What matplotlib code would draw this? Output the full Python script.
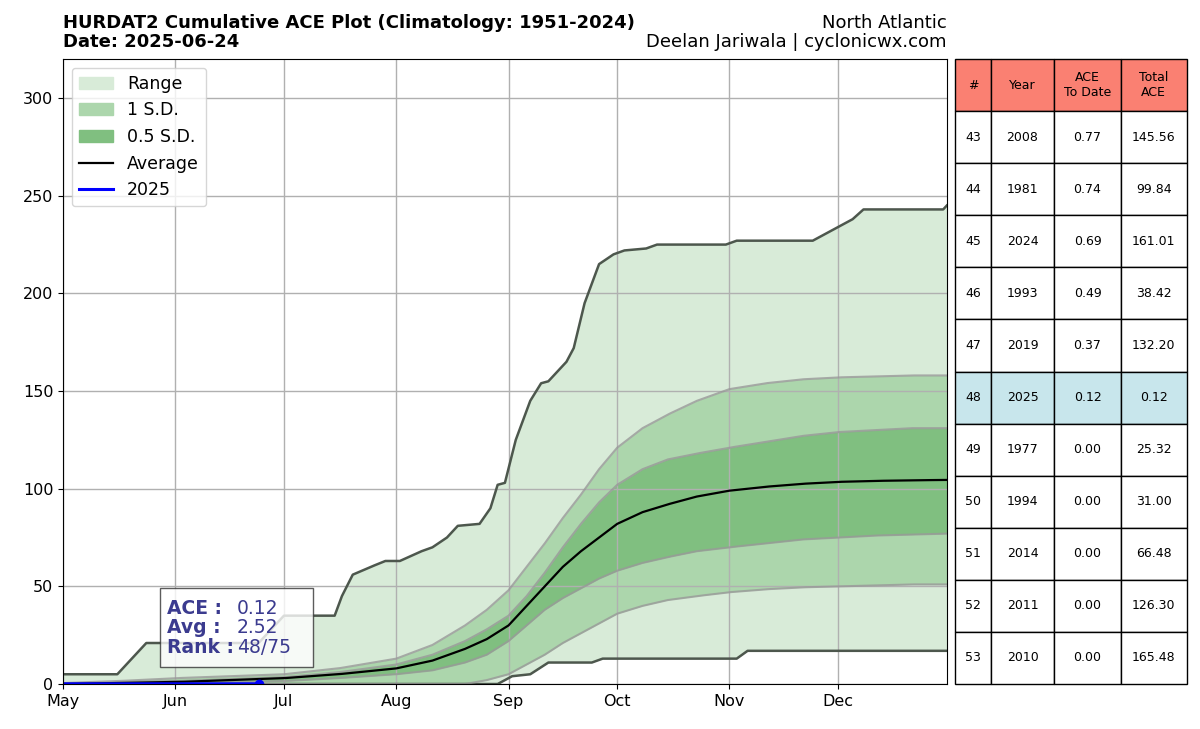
import numpy as np
import matplotlib
matplotlib.use("Agg")
import matplotlib.pyplot as plt
from matplotlib.patches import Patch
from matplotlib.lines import Line2D

# days since May 1
MONTH_DAYS = [0, 31, 61, 92, 123, 153, 184, 214]
MONTH_LABELS = ["May", "Jun", "Jul", "Aug", "Sep", "Oct", "Nov", "Dec"]

MAX_DAYS = [0, 15, 23, 54, 57, 61, 75, 77, 80, 85, 89, 93, 99, 102, 106, 109, 115, 118, 120, 122,
            125, 129, 132, 134, 139, 141, 144, 148, 152, 155, 161, 164, 183, 186, 207, 212, 218, 221, 243, 244]
MAX_VALS = [5, 5, 21, 21, 27, 35, 35, 45, 56, 60, 63, 63, 68, 70, 75, 81, 82, 90, 102, 103,
            125, 145, 154, 155, 165, 172, 195, 215, 220, 222, 223, 225, 225, 227, 227, 232, 238, 243, 243, 245]
MIN_DAYS = [0, 120, 124, 129, 134, 146, 149, 186, 189, 244]
MIN_VALS = [0, 0, 4, 5, 11, 11, 13, 13, 17, 17]

SD_DAYS = [0, 15, 31, 46, 61, 76, 92, 102, 111, 117, 123, 128, 133, 138, 143, 148, 153,
           160, 167, 175, 184, 194, 204, 214, 224, 234, 244]
P1 = [0.5, 1.5, 3, 4, 5, 8, 13, 20, 30, 38, 48, 60, 72, 85, 97, 110, 121,
      131, 138, 145, 151, 154, 156, 157, 157.5, 158, 158]
P05 = [0.3, 1, 1.5, 2.5, 3.5, 6, 10, 15, 22, 28, 35, 45, 57, 70, 82, 93, 102,
       110, 115, 118, 121, 124, 127, 129, 130, 131, 131]
AVG = [0, 0.5, 1, 2, 3, 5, 8, 12, 18, 23, 30, 40, 50, 60, 68, 75, 82,
       88, 92, 96, 99, 101, 102.5, 103.5, 104, 104.3, 104.5]
M05 = [0, 0.2, 0.5, 1, 1.5, 3, 5, 7, 11, 15, 22, 30, 38, 44, 49, 54, 58,
       62, 65, 68, 70, 72, 74, 75, 76, 76.5, 77]
M1 = [0, 0, 0, 0, 0, 0, 0, 0, 0, 2, 5, 10, 15, 21, 26, 31, 36,
      40, 43, 45, 47, 48.5, 49.5, 50, 50.5, 51, 51]

CUR_DAYS = [0, 54]
CUR_VALS = [0.1, 0.12]

TABLE_ROWS = [
    ["43", "2008", "0.77", "145.56"], ["44", "1981", "0.74", "99.84"],
    ["45", "2024", "0.69", "161.01"], ["46", "1993", "0.49", "38.42"],
    ["47", "2019", "0.37", "132.20"], ["48", "2025", "0.12", "0.12"],
    ["49", "1977", "0.00", "25.32"], ["50", "1994", "0.00", "31.00"],
    ["51", "2014", "0.00", "66.48"], ["52", "2011", "0.00", "126.30"],
    ["53", "2010", "0.00", "165.48"],
]

x = np.arange(0, 244.5, 0.5)
mx = np.interp(x, MAX_DAYS, MAX_VALS)
mn = np.interp(x, MIN_DAYS, MIN_VALS)
p1 = np.interp(x, SD_DAYS, P1)
p05 = np.interp(x, SD_DAYS, P05)
av = np.interp(x, SD_DAYS, AVG)
m05 = np.interp(x, SD_DAYS, M05)
m1 = np.interp(x, SD_DAYS, M1)

fig = plt.figure(figsize=(12, 7.29), dpi=100)
ax = fig.add_axes([0.0525, 0.0617, 0.7365, 0.8573])

ax.fill_between(x, mn, mx, color="#d8ebd8", lw=0)
ax.fill_between(x, m1, p1, color="#acd6ac", lw=0)
ax.fill_between(x, m05, p05, color="#80bf80", lw=0)
ax.plot(x, mx, color="#4d574d", lw=1.8)
ax.plot(x, mn, color="#4d574d", lw=1.8)
for c in (p1, m1, p05, m05):
    ax.plot(x, c, color="#999999", lw=1.5, alpha=0.8)
ax.plot(x, av, color="black", lw=1.6)
ax.plot(CUR_DAYS, CUR_VALS, color="blue", lw=2.2)
ax.plot(CUR_DAYS[-1], CUR_VALS[-1], "o", color="blue", ms=6)

ax.set_xlim(0, 244)
ax.set_ylim(0, 320)
ax.set_xticks(MONTH_DAYS)
ax.set_xticklabels(MONTH_LABELS)
ax.set_yticks(range(0, 301, 50))
ax.tick_params(labelsize=11.5)
ax.grid(True, color="#b0b0b0", lw=1)

handles = [Patch(color="#d8ebd8", label="Range"), Patch(color="#acd6ac", label="1 S.D."),
           Patch(color="#80bf80", label="0.5 S.D."), Line2D([], [], color="black", lw=1.6, label="Average"),
           Line2D([], [], color="blue", lw=2.2, label="2025")]
ax.legend(handles=handles, loc="upper left", fontsize=12.5)

tc = "#3b3b8f"
ax.add_patch(plt.Rectangle((0.11, 0.028), 0.173, 0.125, transform=ax.transAxes,
                           fc="white", ec="#333333", alpha=0.8, zorder=4))
ax.text(0.118, 0.09, "ACE :\nAvg :\nRank :", transform=ax.transAxes, fontsize=13.5, color=tc,
        fontweight="bold", va="center", linespacing=1.05, zorder=5)
ax.text(0.197, 0.09, "0.12\n2.52\n48/75", transform=ax.transAxes, fontsize=13.5, color=tc,
        va="center", linespacing=1.05, zorder=5)

fig.text(0.0525, 0.962, "HURDAT2 Cumulative ACE Plot (Climatology: 1951-2024)", fontsize=13, fontweight="bold")
fig.text(0.0525, 0.935, "Date: 2025-06-24", fontsize=13, fontweight="bold")
fig.text(0.789, 0.962, "North Atlantic", fontsize=13, ha="right")
fig.text(0.789, 0.935, "Deelan Jariwala | cyclonicwx.com", fontsize=13, ha="right")

tax = fig.add_axes([0.796, 0.0617, 0.193, 0.8573])
tax.axis("off")
tbl = tax.table(cellText=TABLE_ROWS, colLabels=["#", "Year", "ACE\nTo Date", "Total\nACE"],
                bbox=[0, 0, 1, 1], cellLoc="center", colWidths=[0.15, 0.27, 0.28, 0.28])
tbl.auto_set_font_size(False)
for (r, c), cell in tbl.get_celld().items():
    cell.set_fontsize(9)
    cell.set_linewidth(1)
    if r == 0:
        cell.set_facecolor("#fa8072")
    elif TABLE_ROWS[r - 1][1] == "2025":
        cell.set_facecolor("#c8e6ec")

fig.savefig("out.png", dpi=100)
